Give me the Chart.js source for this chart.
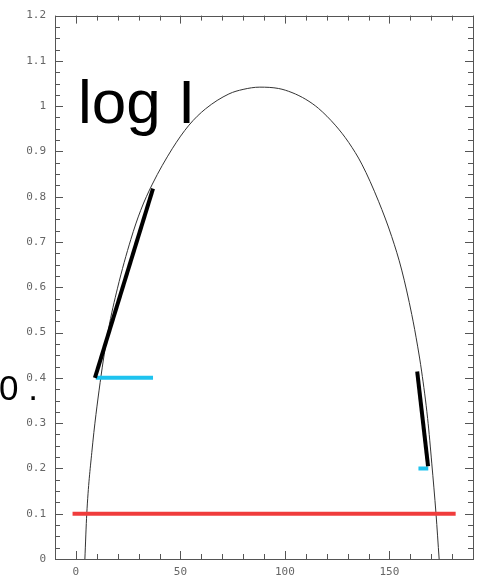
<!DOCTYPE html>
<html lang="en">
<head>
  <meta charset="UTF-8">
  <title>log I</title>
  <script src="https://cdn.jsdelivr.net/npm/chart.js"></script>
  <style>
    body { margin: 0; background: #fff; }
    #wrap { width: 482px; height: 577px; }
  </style>
</head>
<body>
  <div id="wrap"><canvas id="chart" width="482" height="577"></canvas></div>

  <script>
    // curve
    const curveX = [4.3, 5.2, 7.6, 11.6, 15.5, 19.9, 26.3, 31, 36.6, 46.1, 54.1, 62, 73.2, 80, 88, 97, 103.4, 110, 116.1, 124.1, 130.5, 136.8, 144.8, 151.1, 155.9, 160.7, 163.5, 165.4, 168.3, 170.3, 172.3, 173.8];
    const curveY = [0, 0.1, 0.235, 0.39, 0.505, 0.598, 0.706, 0.77, 0.828, 0.906, 0.958, 0.994, 1.027, 1.037, 1.042, 1.039, 1.03, 1.015, 0.995, 0.958, 0.92, 0.872, 0.79, 0.712, 0.638, 0.54, 0.47, 0.415, 0.31, 0.21, 0.1, 0];

    // straight segments
    const redX = [-1.6, 181.7];
    const redY = [0.1, 0.1];
    const cyanLeftX = [9.5, 36.9];
    const cyanLeftY = [0.4, 0.4];
    const cyanRightX = [163.9, 168.6];
    const cyanRightY = [0.2, 0.2];
    const blackLeftX = [9.1, 36.9];
    const blackLeftY = [0.4, 0.818];
    const blackRightX = [163.3, 168.5];
    const blackRightY = [0.414, 0.205];

    // axis ticks
    const xTicks = [0, 50, 100, 150];
    const yTicks = [0, 0.1, 0.2, 0.3, 0.4, 0.5, 0.6, 0.7, 0.8, 0.9, 1, 1.1, 1.2];
    const xMin = -10, xMax = 190, yMin = 0, yMax = 1.2;

    const pts = (xs, ys) => xs.map((x, i) => ({ x: x, y: ys[i] }));

    function seg(xs, ys, color, order) {
      return {
        data: pts(xs, ys),
        showLine: true,
        borderColor: color,
        borderWidth: 4,
        pointRadius: 0,
        borderCapStyle: 'butt',
        order: order
      };
    }

    // box with inward ticks on all four sides, plus the big labels
    const framePlugin = {
      id: 'frame',
      afterDraw(chart) {
        const ctx = chart.ctx;
        const a = chart.chartArea;
        const sx = chart.scales.x, sy = chart.scales.y;
        ctx.save();
        ctx.strokeStyle = '#555';
        ctx.lineWidth = 1;
        ctx.strokeRect(Math.round(a.left) + 0.5, Math.round(a.top) + 0.5,
          Math.round(a.right - a.left), Math.round(a.bottom - a.top));

        ctx.beginPath();
        for (let v = xMin; v <= xMax + 0.001; v += 10) {
          const px = Math.round(sx.getPixelForValue(v)) + 0.5;
          const len = (Math.abs(v % 50) < 0.001) ? 8 : 5;
          ctx.moveTo(px, a.bottom); ctx.lineTo(px, a.bottom - len);
          ctx.moveTo(px, a.top); ctx.lineTo(px, a.top + len);
        }
        for (let i = 0; i <= 48; i++) {
          const v = i * 0.025;
          const py = Math.round(sy.getPixelForValue(v)) + 0.5;
          const len = (i % 4 === 0) ? 8 : 5;
          ctx.moveTo(a.left, py); ctx.lineTo(a.left + len, py);
          ctx.moveTo(a.right, py); ctx.lineTo(a.right - len, py);
        }
        ctx.stroke();

        ctx.fillStyle = '#000';
        ctx.textBaseline = 'alphabetic';
        ctx.textAlign = 'left';
        ctx.font = '62px "Liberation Sans", Arial, sans-serif';
        ctx.fillText('log I', sx.getPixelForValue(1.0), sy.getPixelForValue(0.963));
        ctx.font = '35px "Liberation Sans", Arial, sans-serif';
        ctx.fillText('0 .', -1, 400);
        ctx.restore();
      }
    };

    const tickFont = { family: '"DejaVu Sans Mono", monospace', size: 11 };
    const fmt = v => String(+Number(v).toFixed(1));

    new Chart(document.getElementById('chart'), {
      type: 'scatter',
      data: {
        datasets: [
          {
            data: pts(curveX, curveY),
            showLine: true,
            borderColor: '#333',
            borderWidth: 1,
            pointRadius: 0,
            cubicInterpolationMode: 'monotone',
            order: 5
          },
          seg(redX, redY, '#f03c3c', 1),
          seg(cyanLeftX, cyanLeftY, '#1ec3ef', 2),
          seg(cyanRightX, cyanRightY, '#1ec3ef', 2),
          seg(blackLeftX, blackLeftY, '#000', 1),
          seg(blackRightX, blackRightY, '#000', 1)
        ]
      },
      options: {
        responsive: false,
        animation: false,
        layout: { padding: { top: 13, right: 9, left: 0, bottom: 0 } },
        plugins: { legend: { display: false }, tooltip: { enabled: false } },
        scales: {
          x: {
            type: 'linear',
            min: xMin, max: xMax,
            grid: { display: false, drawTicks: false },
            border: { display: false },
            afterBuildTicks: s => { s.ticks = xTicks.map(v => ({ value: v })); },
            afterFit: s => { s.height = 18; },
            ticks: { color: '#666', font: tickFont, padding: 7, maxRotation: 0, callback: fmt }
          },
          y: {
            type: 'linear',
            min: yMin, max: yMax,
            grid: { display: false, drawTicks: false },
            border: { display: false },
            afterBuildTicks: s => { s.ticks = yTicks.map(v => ({ value: v })); },
            afterFit: s => { s.width = 55; },
            ticks: { color: '#666', font: tickFont, padding: 9, callback: fmt }
          }
        }
      },
      plugins: [framePlugin]
    });
  </script>
</body>
</html>
